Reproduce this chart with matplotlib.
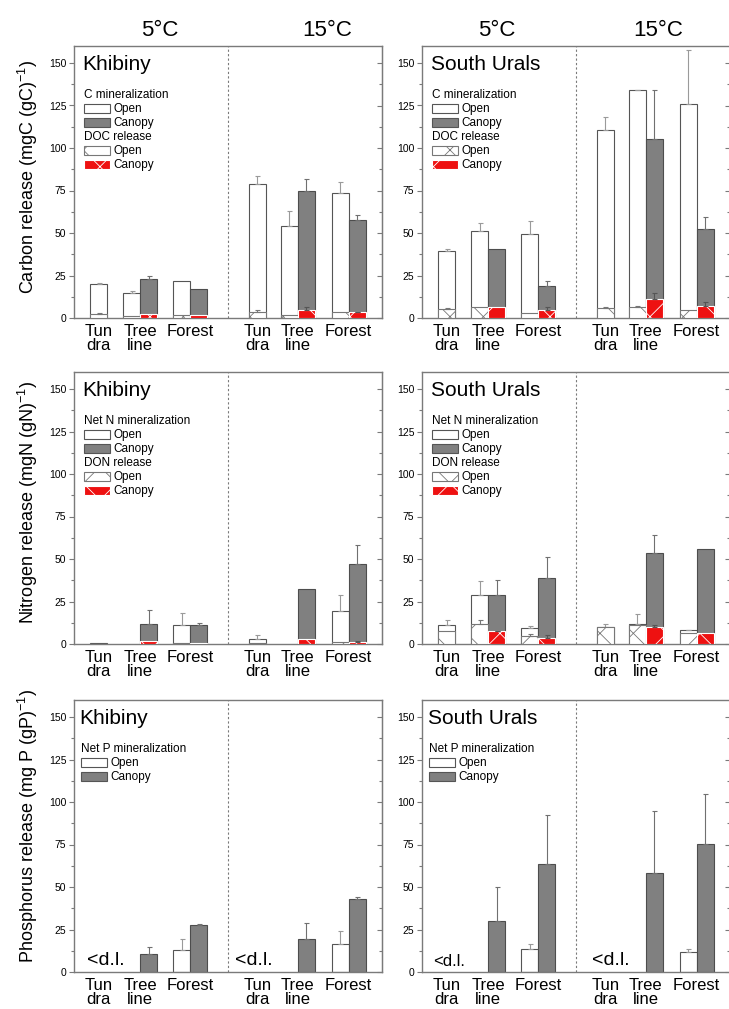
import numpy as np
import matplotlib.pyplot as plt
from matplotlib.patches import Rectangle
from matplotlib.ticker import FixedLocator

plt.rcParams['font.family'] = ['Liberation Sans', 'DejaVu Sans']
plt.rcParams['mathtext.default'] = 'regular'
plt.rcParams['hatch.linewidth'] = 0.6

nan = np.nan

## Order of every list: Tundra, Treeline, Forest at 5°C, then the same at 15°C.
sites = ['Tun\ndra', 'Tree\nline', 'Forest']
temps = ['5°C', '15°C']
regions = ['Khibiny', 'South Urals']

## Carbon, Khibiny
c_khib_open = [20.0, 15.0, 21.5, 79.0, 54.3, 73.5]
c_khib_open_sd = [0.5, 1.1, 0.0, 4.8, 8.5, 6.5]
c_khib_can = [nan, 23.0, 16.9, nan, 75.0, 57.5]
c_khib_can_sd = [nan, 1.5, 0.0, nan, 7.0, 3.0]
doc_khib_open = [2.5, 1.2, 1.8, 3.7, 2.0, 3.3]
doc_khib_open_sd = [0.5, 0.0, 0.0, 1.0, 0.0, 0.0]
doc_khib_can = [nan, 2.4, 1.8, nan, 4.7, 3.3]
doc_khib_can_sd = [nan, 0.0, 0.0, nan, 1.5, 0.5]

## Carbon, South Urals
c_ural_open = [39.5, 51.0, 49.3, 110.6, 134.0, 125.7]
c_ural_open_sd = [0.8, 5.0, 8.0, 7.5, 0.3, 32.0]
c_ural_can = [nan, 40.6, 19.0, nan, 105.0, 52.4]
c_ural_can_sd = [nan, 0.0, 3.0, nan, 29.0, 7.0]
doc_ural_open = [5.3, 6.7, 3.0, 5.9, 6.7, 4.7]
doc_ural_open_sd = [0.6, 0.0, 0.0, 0.8, 0.6, 0.0]
doc_ural_can = [nan, 6.7, 4.7, nan, 11.2, 7.3]
doc_ural_can_sd = [nan, 0.0, 2.0, nan, 3.3, 1.9]

## Nitrogen, Khibiny
n_khib_open = [0.4, 0.0, 11.2, 3.0, 0.0, 19.6]
n_khib_open_sd = [0.0, 0.0, 7.0, 2.3, 0.0, 9.2]
n_khib_can = [nan, 11.8, 11.4, nan, 32.2, 46.9]
n_khib_can_sd = [nan, 8.2, 0.8, nan, 0.0, 11.3]
don_khib_open = [0.2, 0.0, 0.5, 0.5, 0.0, 1.4]
don_khib_open_sd = [0.0, 0.0, 0.0, 0.0, 0.0, 0.0]
don_khib_can = [nan, 2.0, 0.8, nan, 2.7, 1.4]
don_khib_can_sd = [nan, 0.0, 0.0, nan, 0.0, 0.5]

## Nitrogen, South Urals
n_ural_open = [11.2, 29.0, 9.4, 10.0, 11.5, 8.1]
n_ural_open_sd = [3.0, 8.0, 1.3, 1.8, 6.2, 0.4]
n_ural_can = [nan, 29.0, 38.8, nan, 53.7, 55.7]
n_ural_can_sd = [nan, 8.5, 12.6, nan, 10.4, 0.0]
don_ural_open = [7.5, 12.0, 4.7, 10.0, 11.4, 6.5]
don_ural_open_sd = [0.0, 2.2, 1.0, 0.0, 0.0, 0.0]
don_ural_can = [nan, 7.6, 3.8, nan, 10.2, 6.2]
don_ural_can_sd = [nan, 0.3, 1.3, nan, 1.2, 0.0]

## Phosphorus (tundra below detection limit)
p_khib_open = [nan, 0.0, 12.8, nan, 0.0, 16.7]
p_khib_open_sd = [nan, 0.0, 6.8, nan, 0.0, 7.6]
p_khib_can = [nan, 10.8, 27.9, nan, 19.6, 43.2]
p_khib_can_sd = [nan, 3.9, 0.6, nan, 9.4, 1.1]
p_ural_open = [nan, 0.0, 13.4, nan, 0.0, 11.8]
p_ural_open_sd = [nan, 0.0, 3.3, nan, 0.0, 2.0]
p_ural_can = [nan, 30.1, 63.6, nan, 58.3, 75.4]
p_ural_can_sd = [nan, 20.1, 28.5, nan, 36.2, 29.3]

ylabels = ['Carbon release (mgC (gC)$^{-1}$)',
           'Nitrogen release (mgN (gN)$^{-1}$)',
           'Phosphorus release (mg P (gP)$^{-1}$)']

## layout (x in panel units, 0..309)
OPEN_X = np.array([25, 58, 108, 184, 216, 267])
CAN_X = OPEN_X + 17
BAR_W = 17
TICK_X = [25, 66.5, 116.5, 184, 224.5, 275.5]
SPLIT_X = 154

GREY = '#808080'
SPINE = '#7a7a7a'
RED = '#ee1111'


def plotBars(ax, x, v, sd, face, edge, ecolor, hatch=None, z=2):
    v = np.array(v, dtype=float)
    sd = np.array(sd, dtype=float)
    ok = ~np.isnan(v) & (v > 0)
    ax.bar(x[ok], v[ok], width=BAR_W, facecolor=face, edgecolor=edge,
           linewidth=0.8, hatch=hatch, zorder=z)
    ok = ok & (sd > 0)
    if ok.any():
        ax.errorbar(x[ok], v[ok], yerr=[np.zeros(ok.sum()), sd[ok]], fmt='none',
                    ecolor=ecolor, elinewidth=0.8, capsize=1.8, capthick=0.8, zorder=z + 0.5)


def plotLegend(ax, groups, x0):
    y = 0.82
    for header, items in groups:
        ax.text(x0, y, header, transform=ax.transAxes, fontsize=8.5, va='center')
        y -= 0.0513
        for label, face, edge, hatch in items:
            ax.add_patch(Rectangle((x0, y - 0.0165), 0.084, 0.033, transform=ax.transAxes,
                                   facecolor=face, edgecolor=edge, hatch=hatch, linewidth=0.8))
            ax.text(x0 + 0.097, y, label, transform=ax.transAxes, fontsize=8.5, va='center')
            y -= 0.0513


def setupAxes(ax):
    major = np.arange(0, 151, 25)
    minor = np.arange(12.5, 160, 25)
    ax.set_xlim(0, 309)
    ax.set_ylim(0, 160)
    ax.set_yticks(major)
    ax.set_yticks(minor, minor=True)
    ax.set_xticks(TICK_X)
    ax.set_xticklabels(sites * 2, fontsize=12, linespacing=0.95)
    ax.tick_params(axis='x', length=0, pad=4)
    ax.tick_params(axis='y', which='major', direction='out', length=3.5, width=0.8,
                   color=SPINE, labelsize=7.5, pad=2)
    ax.tick_params(axis='y', which='minor', direction='out', length=2, width=0.8, color=SPINE)
    for s in ax.spines.values():
        s.set_color(SPINE)
        s.set_linewidth(1.0)
    ax.axvline(SPLIT_X, color=SPINE, linestyle=(0, (2, 2)), linewidth=0.8)

    ## mirrored ticks on the right spine, pointing inwards
    sec = ax.secondary_yaxis('right')
    sec.yaxis.set_major_locator(FixedLocator(major))
    sec.yaxis.set_minor_locator(FixedLocator(minor))
    sec.tick_params(axis='y', which='major', direction='in', length=3.5, width=0.8,
                    color=SPINE, labelright=False)
    sec.tick_params(axis='y', which='minor', direction='in', length=2, width=0.8, color=SPINE)
    sec.spines['right'].set_color(SPINE)


def main():
    fig = plt.figure(figsize=(7.29, 10.09), dpi=100)
    lefts = [74 / 729, 422 / 729]
    w = 308 / 729
    bottoms = [1 - 318 / 1009, 1 - 644 / 1009, 1 - 972 / 1009]
    h = 272 / 1009

    carbon = [(c_khib_open, c_khib_open_sd, c_khib_can, c_khib_can_sd,
               doc_khib_open, doc_khib_open_sd, doc_khib_can, doc_khib_can_sd),
              (c_ural_open, c_ural_open_sd, c_ural_can, c_ural_can_sd,
               doc_ural_open, doc_ural_open_sd, doc_ural_can, doc_ural_can_sd)]
    nitrogen = [(n_khib_open, n_khib_open_sd, n_khib_can, n_khib_can_sd,
                 don_khib_open, don_khib_open_sd, don_khib_can, don_khib_can_sd),
                (n_ural_open, n_ural_open_sd, n_ural_can, n_ural_can_sd,
                 don_ural_open, don_ural_open_sd, don_ural_can, don_ural_can_sd)]
    phosphorus = [(p_khib_open, p_khib_open_sd, p_khib_can, p_khib_can_sd),
                  (p_ural_open, p_ural_open_sd, p_ural_can, p_ural_can_sd)]
    rows = [carbon, nitrogen, phosphorus]
    legends = [[('C mineralization', [('Open', 'white', '#555555', None), ('Canopy', GREY, '#555555', None)]),
                ('DOC release', [('Open', 'white', '#777777', 'x'), ('Canopy', RED, 'white', 'x')])],
               [('Net N mineralization', [('Open', 'white', '#555555', None), ('Canopy', GREY, '#555555', None)]),
                ('DON release', [('Open', 'white', '#777777', 'x'), ('Canopy', RED, 'white', 'x')])],
               [('Net P mineralization', [('Open', 'white', '#555555', None), ('Canopy', GREY, '#555555', None)])]]
    label_y = [177, 502, 826]
    ## "<d.l." x position and size for 5°C and 15°C
    dl_pos = [[(13, 14), (162, 14)], [(11, 12), (171, 14)]]

    for r in range(3):
        for c in range(2):
            ax = fig.add_axes([lefts[c], bottoms[r], w, h])
            setupAxes(ax)
            d = rows[r][c]
            plotBars(ax, OPEN_X, d[0], d[1], 'white', '#555555', '#9a9a9a')
            plotBars(ax, CAN_X, d[2], d[3], GREY, '#4d4d4d', '#707070')
            if len(d) > 4:
                plotBars(ax, OPEN_X, d[4], d[5], 'white', '#777777', '#777777', hatch='x', z=3)
                plotBars(ax, CAN_X, d[6], d[7], RED, 'white', '#555555', hatch='x', z=3)
            else:
                for xt, fs in dl_pos[c]:
                    ax.text(xt, 1.5, '<d.l.', fontsize=fs, ha='left', va='bottom')
            x0 = 0.028 if r < 2 else 0.018
            ax.text(x0, 0.932, regions[c], transform=ax.transAxes, fontsize=15, va='center')
            plotLegend(ax, legends[r], x0 + 0.004)
        fig.text(28 / 729, 1 - label_y[r] / 1009, ylabels[r], rotation=90,
                 fontsize=13, ha='center', va='center')

    for xt, t in zip([160, 327, 497, 658], temps * 2):
        fig.text(xt / 729, 1 - 30 / 1009, t, fontsize=16, ha='center', va='center')

    plt.savefig('out.png', dpi=100)
    plt.close()


if __name__ == "__main__":
    main()
